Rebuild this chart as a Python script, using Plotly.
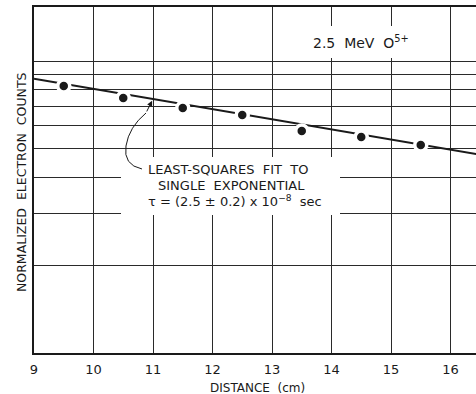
import math
import plotly.graph_objects as go

# ---- data ----
distance_cm = [9.5, 10.5, 11.5, 12.5, 13.5, 14.5, 15.5]
counts = [8.21, 7.47, 6.90, 6.53, 5.76, 5.49, 5.16]
fit_x = [9.0, 16.44]
fit_y = [8.70, 4.80]
x_ticks = [9, 10, 11, 12, 13, 14, 15, 16]
x_ticklabels = ["9", "10", "11", "12", "13", "14", "15", "16"]
y_grid = [1, 2, 3, 4, 5, 6, 7, 8, 9, 10]

W, H = 476, 394
ML, MR, MT, MB = 34, 0, 7, 41
PW, PH = W - ML - MR, H - MT - MB
FONT = "DejaVu Sans, Verdana, sans-serif"
INK = "#1a1a1a"

def px(xp, yp):
    """pixel -> paper coords (for decorations only)"""
    return (xp - ML) / PW, (H - MB - yp) / PH

fig = go.Figure()
fig.add_trace(go.Scatter(x=fit_x, y=fit_y, mode="lines",
                         line=dict(color=INK, width=2), showlegend=False,
                         hoverinfo="skip"))
fig.add_trace(go.Scatter(x=distance_cm, y=counts, mode="markers",
                         marker=dict(color=INK, size=12,
                                     line=dict(color="white", width=3.5)),
                         showlegend=False))

def fit_at(x):
    t = (x - fit_x[0]) / (fit_x[1] - fit_x[0])
    return math.exp(math.log(fit_y[0]) + t * (math.log(fit_y[1]) - math.log(fit_y[0])))

# white boxes that interrupt the grid behind the lettering (drawn first)
def blank(x0, y0, x1, y1):
    a, b = px(x0, y1)
    c, d = px(x1, y0)
    fig.add_shape(type="rect", x0=a, y0=b, x1=c, y1=d, xref="paper", yref="paper",
                  fillcolor="white", line=dict(width=0), layer="above")

blank(121, 157, 340, 215)
blank(304, 26, 418, 58)

tip_x = 11.0
fig.add_annotation(x=tip_x, y=math.log10(fit_at(tip_x)), xref="x", yref="y",
                   text="", showarrow=True, ax=-7, ay=14, arrowhead=2,
                   arrowsize=1.1, arrowwidth=1, arrowcolor=INK, standoff=2)

pts = [px(142, 169), px(123, 165), px(126, 146), px(129, 127), px(146, 113)]
path = "M {:.4f},{:.4f} Q {:.4f},{:.4f} {:.4f},{:.4f} Q {:.4f},{:.4f} {:.4f},{:.4f}".format(
    *pts[0], *pts[1], *pts[2], *pts[3], *pts[4])
fig.add_shape(type="path", path=path, xref="paper", yref="paper",
              line=dict(color=INK, width=1), layer="above")

def note(xp, yp, text, size=12, angle=0):
    x, y = px(xp, yp)
    fig.add_annotation(x=x, y=y, xref="paper", yref="paper", showarrow=False,
                       xanchor="center", yanchor="middle", text=text,
                       textangle=angle, borderpad=0, align="center",
                       font=dict(family=FONT, size=size, color=INK))

note(228, 169, "LEAST-SQUARES  FIT  TO", size=13)
note(231, 185, "SINGLE  EXPONENTIAL", size=13)
note(235, 201, "τ = (2.5 ± 0.2) x 10<sup>−8</sup>  sec", size=13)
note(361, 42, "2.5  MeV  O<sup>5+</sup>", size=14)
note(257, 388, "DISTANCE  (cm)", size=12)
note(21, 182, "NORMALIZED  ELECTRON  COUNTS", size=12.5, angle=-90)

fig.update_xaxes(range=[9, 9 + PW / 59.5], tickvals=x_ticks, ticktext=x_ticklabels,
                 showgrid=True, gridcolor="#2a2a2a", gridwidth=1,
                 showline=True, linecolor=INK, linewidth=1.5, mirror=True,
                 ticks="", zeroline=False, ticklabelstandoff=4,
                 tickfont=dict(family=FONT, size=13, color=INK))
fig.update_yaxes(type="log", range=[0, PH / 292], tickvals=y_grid,
                 showticklabels=False, showgrid=True, gridcolor="#2a2a2a",
                 gridwidth=1, showline=True, linecolor=INK, linewidth=1.5,
                 mirror=False, ticks="", zeroline=False)

fig.update_layout(width=W, height=H, margin=dict(l=ML, r=MR, t=MT, b=MB),
                  paper_bgcolor="white", plot_bgcolor="white",
                  font=dict(family=FONT), showlegend=False)

fig.write_html("out.html")
